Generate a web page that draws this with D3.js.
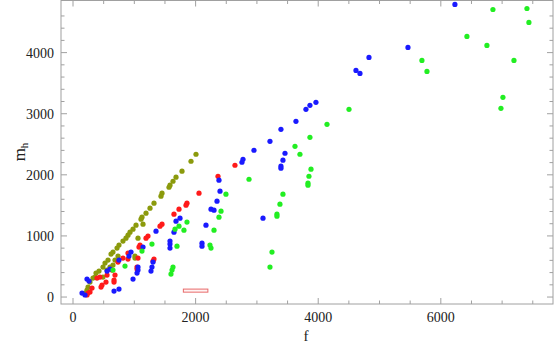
<!DOCTYPE html>
<html><head><meta charset="utf-8">
<script src="https://cdn.jsdelivr.net/npm/d3@7"></script>
<style>body{margin:0;background:#fff}svg{display:block}</style>
</head><body><div id="chart"></div>
<script>
// data: [f, m_h]
const olive = [[2006,2337],[1925,2222],[1778,2059],[1680,1961],[1631,1895],[1582,1830],[1566,1797],[1452,1699],[1435,1650],[1321,1536],[1256,1454],[1191,1373],[1125,1307],[1109,1275],[1142,1193],[1028,1176],[979,1111],[930,1062],[897,1013],[864,964],[815,915],[750,850],[718,801],[652,735],[620,703],[571,605],[522,556],[489,490],[424,425],[375,392],[326,310],[277,245],[245,163],[228,114],[196,65],[1060,964],[1011,670],[1011,637],[734,670],[685,605],[652,523],[603,490],[555,441],[489,327],[359,327]];
const red = [[2642,2157],[2365,1977],[2055,1699],[1859,1536],[1843,1503],[1729,1438],[1647,1356],[1452,1193],[1419,1160],[1223,997],[1191,964],[1093,850],[1076,817],[1321,621],[1305,588],[1060,637],[1044,490],[1044,458],[897,719],[815,637],[897,621],[734,572],[636,441],[685,359],[669,278],[669,245],[538,245],[473,196],[457,163],[555,359],[391,310],[440,327],[310,147],[277,82],[245,65],[228,33]];
const blue = [[6230,4788],[5464,4085],[4828,3922],[4616,3709],[4681,3660],[3963,3186],[3865,3137],[3800,3072],[3637,2876],[3392,2745],[3213,2549],[2952,2402],[2773,2255],[2756,2206],[3458,2353],[3425,2239],[3392,2141],[3392,2108],[3099,1291],[2381,1912],[2398,1732],[2349,1569],[2251,1438],[2300,1422],[2169,1176],[2104,882],[2104,833],[1745,1291],[1680,1242],[1647,1062],[1354,1078],[1582,915],[1582,866],[1582,801],[1142,817],[1305,572],[1288,490],[1272,425],[1060,490],[1060,441],[1044,392],[979,294],[946,735],[913,670],[750,605],[603,458],[555,425],[669,98],[750,131],[228,294],[261,261],[147,65],[196,33]];
const green = [[652,441],[848,507],[1125,752],[1288,866],[1598,376],[1615,441],[1631,490],[1664,1111],[1696,833],[1729,1160],[1810,1095],[1859,1226],[2234,850],[2251,801],[2300,1095],[2381,1307],[2414,1405],[2495,1683],[2871,1928],[3213,490],[3246,735],[3327,1356],[3327,1324],[3376,1520],[3425,1683],[3621,2467],[3702,2337],[3833,1863],[3833,1830],[3849,1977],[3882,2092],[4143,2827],[4502,3072],[3865,2614],[5692,3873],[5774,3693],[6426,4265],[6752,4118],[6850,4706],[6981,3088],[7013,3268],[7193,3873],[7405,4722],[7437,4494]];
const legendBox = [1800, 2200, 80, 130]; // f0, f1, m0, m1
const xTicks = [0, 2000, 4000, 6000];
const yTicks = [0, 1000, 2000, 3000, 4000];
const xLabel = "f";
const yLabel = "m";
const yLabelSub = "h";

const W = 554, H = 346;
const L = 61, R = 553, T = 0.5, B = 304;
const x = d3.scaleLinear().domain([-196, 7830]).range([L, R]);
const y = d3.scaleLinear().domain([-114, 4853]).range([B, T]);

const svg = d3.select("#chart").append("svg").attr("width", W).attr("height", H);
const font = "'Liberation Serif', 'DejaVu Serif', serif";
const frameColor = "#a0a0a0";

const series = [
  {data: olive, color: "#8b9a0c"},
  {data: red, color: "#ff1a1a"},
  {data: blue, color: "#1a1aff"},
  {data: green, color: "#22ee22"}
];
series.forEach(s => {
  svg.append("g").selectAll("circle").data(s.data).join("circle")
    .attr("cx", d => x(d[0])).attr("cy", d => y(d[1])).attr("r", 2.6)
    .attr("fill", s.color);
});

svg.append("rect")
  .attr("x", x(legendBox[0])).attr("y", y(legendBox[3]))
  .attr("width", x(legendBox[1]) - x(legendBox[0]))
  .attr("height", y(legendBox[2]) - y(legendBox[3]))
  .attr("fill", "#fff4f4").attr("stroke", "#e86a6a").attr("stroke-width", 1);

svg.append("rect").attr("x", L).attr("y", T).attr("width", R - L).attr("height", B - T)
  .attr("fill", "none").attr("stroke", frameColor).attr("stroke-width", 1);

const xMinor = d3.range(0, 7800, 500).filter(v => v % 2000 !== 0);
const yMinor = d3.range(0, 4800, 200).filter(v => v % 1000 !== 0);
const tg = svg.append("g").attr("stroke", frameColor).attr("stroke-width", 1);
xTicks.forEach(v => {
  tg.append("line").attr("x1", x(v)).attr("x2", x(v)).attr("y1", B).attr("y2", B - 6);
  tg.append("line").attr("x1", x(v)).attr("x2", x(v)).attr("y1", T).attr("y2", T + 6);
});
xMinor.forEach(v => {
  tg.append("line").attr("x1", x(v)).attr("x2", x(v)).attr("y1", B).attr("y2", B - 3.5);
  tg.append("line").attr("x1", x(v)).attr("x2", x(v)).attr("y1", T).attr("y2", T + 3.5);
});
yTicks.forEach(v => {
  tg.append("line").attr("x1", L).attr("x2", L + 6).attr("y1", y(v)).attr("y2", y(v));
  tg.append("line").attr("x1", R).attr("x2", R - 6).attr("y1", y(v)).attr("y2", y(v));
});
yMinor.forEach(v => {
  tg.append("line").attr("x1", L).attr("x2", L + 3.5).attr("y1", y(v)).attr("y2", y(v));
  tg.append("line").attr("x1", R).attr("x2", R - 3.5).attr("y1", y(v)).attr("y2", y(v));
});

svg.append("g").selectAll("text").data(xTicks).join("text")
  .attr("x", d => x(d)).attr("y", 322).attr("text-anchor", "middle")
  .attr("font-family", font).attr("font-size", 14).attr("fill", "#222").text(d => d);
svg.append("g").selectAll("text").data(yTicks).join("text")
  .attr("x", 54).attr("y", d => y(d) + 5).attr("text-anchor", "end")
  .attr("font-family", font).attr("font-size", 14).attr("fill", "#222").text(d => d);

svg.append("text").attr("x", 306).attr("y", 341).attr("text-anchor", "middle")
  .attr("font-family", font).attr("font-size", 15).attr("fill", "#222").text(xLabel);
const yl = svg.append("text").attr("transform", "translate(25,152) rotate(-90)")
  .attr("text-anchor", "middle").attr("font-family", font).attr("font-size", 17).attr("fill", "#222");
yl.append("tspan").text(yLabel);
yl.append("tspan").attr("font-size", 11).attr("dy", 3).text(yLabelSub);
</script></body></html>
